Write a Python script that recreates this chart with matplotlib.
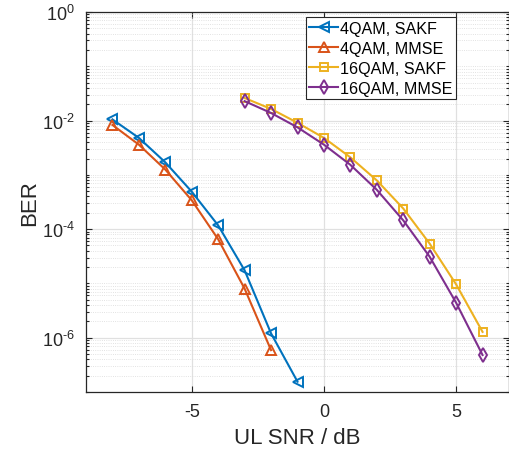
import numpy as np
from matplotlib import pyplot as plt
from matplotlib.ticker import FixedLocator, NullFormatter, FuncFormatter

plt.rcParams['axes.unicode_minus'] = False
plt.rcParams['font.family'] = ['Liberation Sans', 'DejaVu Sans']
plt.rcParams['mathtext.fontset'] = 'custom'
plt.rcParams['mathtext.rm'] = 'Liberation Sans'
plt.rcParams['mathtext.it'] = 'Liberation Sans'

# 数据
snr_4qam_sakf = [-8, -7, -6, -5, -4, -3, -2, -1]
ber_4qam_sakf = [1.05e-2, 4.8e-3, 1.7e-3, 4.9e-4, 1.17e-4, 1.74e-5, 1.2e-6, 1.55e-7]
snr_4qam_mmse = [-8, -7, -6, -5, -4, -3, -2]
ber_4qam_mmse = [8.3e-3, 3.6e-3, 1.25e-3, 3.4e-4, 6.5e-5, 8.0e-6, 5.9e-7]
snr_16qam = [-3, -2, -1, 0, 1, 2, 3, 4, 5, 6]
ber_16qam_sakf = [2.6e-2, 1.64e-2, 9.1e-3, 4.8e-3, 2.1e-3, 7.9e-4, 2.4e-4, 5.4e-5, 9.6e-6, 1.28e-6]
ber_16qam_mmse = [2.28e-2, 1.38e-2, 7.5e-3, 3.6e-3, 1.53e-3, 5.3e-4, 1.45e-4, 3.1e-5, 4.4e-6, 4.8e-7]

c_blue = (0, 0.447, 0.741)
c_orange = (0.85, 0.325, 0.098)
c_yellow = (0.929, 0.694, 0.125)
c_purple = (0.494, 0.184, 0.556)
dark = (0.15, 0.15, 0.15)

fig = plt.figure(figsize=(5.1, 4.56), dpi=100)
ax = fig.add_axes([86 / 510, 1 - 393 / 456, 423 / 510, 380 / 456])

kw = dict(linewidth=1.5, markersize=7, markerfacecolor='none', markeredgewidth=1.4)
ax.semilogy(snr_4qam_sakf, ber_4qam_sakf, '-<', color=c_blue, label='4QAM, SAKF', **kw)
ax.semilogy(snr_4qam_mmse, ber_4qam_mmse, '-^', color=c_orange, label='4QAM, MMSE', **kw)
ax.semilogy(snr_16qam, ber_16qam_sakf, '-s', color=c_yellow, label='16QAM, SAKF',
            linewidth=1.5, markersize=6, markerfacecolor='none', markeredgewidth=1.4)
ax.semilogy(snr_16qam, ber_16qam_mmse, '-d', color=c_purple, label='16QAM, MMSE', **kw)

ax.set_xlim(-9, 7)
ax.set_ylim(1e-7, 1)
ax.set_xticks([-5, 0, 5])
ax.yaxis.set_major_locator(FixedLocator([1e-6, 1e-4, 1e-2, 1e0]))


def fmt(v, pos):
    e = int(round(np.log10(v)))
    if e < 0:
        return r'$\mathdefault{10^{\text{-}%d}}$' % (-e)
    return r'$\mathdefault{10^{%d}}$' % e


ax.yaxis.set_major_formatter(FuncFormatter(fmt))
minor = [s * 10.0 ** d for d in range(-7, 0) for s in range(1, 10)
         if not (s == 1 and d % 2 == 0)]
ax.yaxis.set_minor_locator(FixedLocator(minor))
ax.yaxis.set_minor_formatter(NullFormatter())

ax.grid(True, which='major', color=(0.88, 0.88, 0.88), linewidth=0.9, linestyle='-')
ax.grid(True, which='minor', axis='y', color=(0.85, 0.85, 0.85), linewidth=0.6, linestyle=':')
ax.set_axisbelow(True)

ax.tick_params(which='both', direction='in', top=True, right=True, colors=dark,
               labelsize=13, width=0.8)
ax.tick_params(which='major', length=4, pad=8)
ax.tick_params(which='minor', length=2)
for sp in ax.spines.values():
    sp.set_color(dark)
    sp.set_linewidth(0.9)

ax.set_xlabel('UL SNR / dB', fontsize=16, color=dark, labelpad=5)
ax.set_ylabel('BER', fontsize=16, color=dark, labelpad=1)

leg = ax.legend(loc='upper right', bbox_to_anchor=(0.874, 0.986), fontsize=11.6,
                fancybox=False, edgecolor=dark, framealpha=1, borderpad=0.2,
                labelspacing=0.32, handlelength=1.8, handletextpad=0.1, borderaxespad=0)
leg.get_frame().set_linewidth(0.8)

fig.savefig('out.png', dpi=100)
